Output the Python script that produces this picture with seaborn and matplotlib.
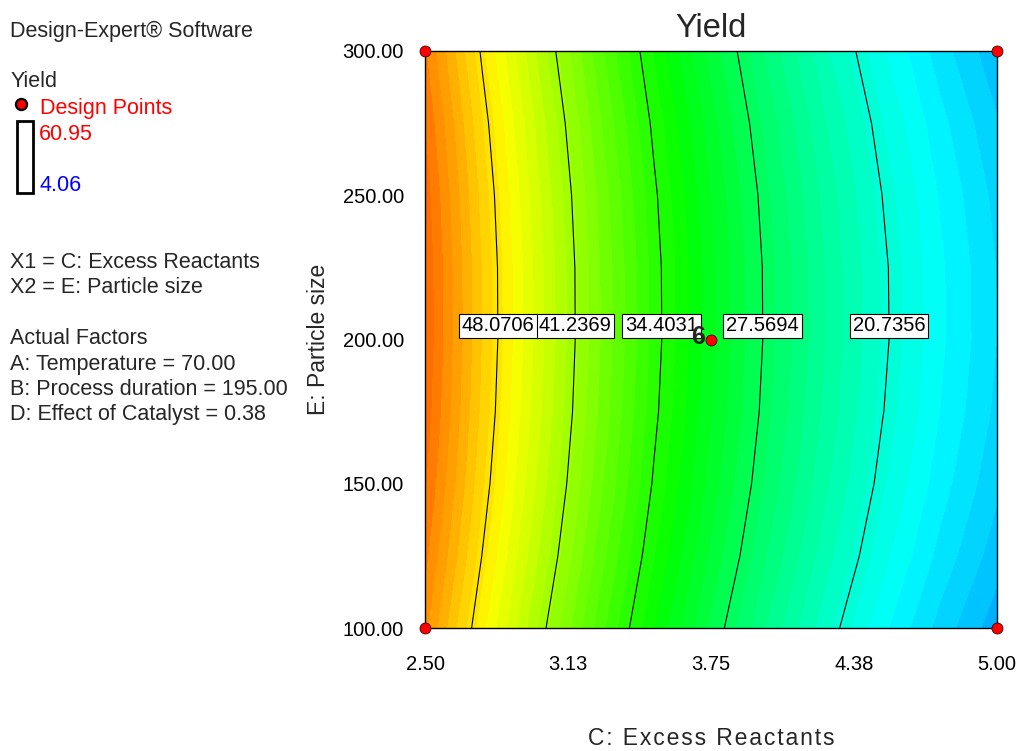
import numpy as np
import pandas as pd
import matplotlib
matplotlib.use("Agg")
import matplotlib.pyplot as plt
import seaborn as sns
from matplotlib.colors import LinearSegmentedColormap
from matplotlib.lines import Line2D
from matplotlib.patches import Rectangle

# ---------------- data ----------------
excess_reactants = [2.50, 2.75, 3.00, 3.25, 3.50, 3.75, 4.00, 4.25, 4.50, 4.75, 5.00]
particle_size = [100, 125, 150, 175, 200, 225, 250, 275, 300]
# predicted Yield, one row per particle size
yield_grid = [
    [52.65, 47.03, 41.80, 36.96, 32.50, 28.43, 24.75, 21.46, 18.55, 16.03, 13.90],
    [53.65, 48.03, 42.80, 37.96, 33.50, 29.43, 25.75, 22.46, 19.55, 17.03, 14.90],
    [54.40, 48.78, 43.55, 38.71, 34.25, 30.18, 26.50, 23.21, 20.30, 17.78, 15.65],
    [54.89, 49.27, 44.04, 39.20, 34.74, 30.67, 26.99, 23.70, 20.79, 18.27, 16.14],
    [55.12, 49.50, 44.27, 39.43, 34.97, 30.90, 27.22, 23.93, 21.02, 18.50, 16.37],
    [55.09, 49.47, 44.24, 39.40, 34.94, 30.87, 27.19, 23.90, 20.99, 18.47, 16.34],
    [54.81, 49.19, 43.96, 39.12, 34.66, 30.59, 26.91, 23.62, 20.71, 18.19, 16.06],
    [54.27, 48.65, 43.42, 38.58, 34.12, 30.05, 26.37, 23.08, 20.17, 17.65, 15.52],
    [53.47, 47.85, 42.62, 37.78, 33.32, 29.25, 25.57, 22.28, 19.37, 16.85, 14.72],
]
contour_levels = [20.7356, 27.5694, 34.4031, 41.2369, 48.0706]
label_anchor_c = [4.53, 3.98, 3.54, 3.16, 2.82]
label_anchor_e = 204.7
yield_min, yield_max = 4.06, 60.95

design_c = [2.50, 2.50, 5.00, 5.00, 3.75]
design_e = [100, 300, 100, 300, 200]
design_count = ["", "", "", "", "6"]

x_ticks = [2.50, 3.125, 3.75, 4.375, 5.00]
x_ticklabels = ["2.50", "3.13", "3.75", "4.38", "5.00"]
y_ticks = [100, 150, 200, 250, 300]
y_ticklabels = ["100.00", "150.00", "200.00", "250.00", "300.00"]

side_lines = ["X1 = C: Excess Reactants", "X2 = E: Particle size", "",
              "Actual Factors", "A: Temperature = 70.00",
              "B: Process duration = 195.00", "D: Effect of Catalyst = 0.38"]

# ---------------- style ----------------
sns.set_style("white")
plt.rcParams["font.family"] = ["Liberation Sans", "DejaVu Sans"]

W, H = 1022, 751
fig = plt.figure(figsize=(W / 100, H / 100), dpi=100)
ax = fig.add_axes([425 / W, 1 - 628 / H, 572 / W, 577 / H])


def fpos(x, y):
    return x / W, 1 - y / H


cmap = LinearSegmentedColormap.from_list(
    "de", ["#0000ff", "#00ffff", "#00ff00", "#ffff00", "#ff0000"])

C, E = np.meshgrid(np.array(excess_reactants), np.array(particle_size))
Z = np.array(yield_grid)

fill_levels = np.linspace(yield_min, yield_max, 61)
ax.contourf(C, E, Z, levels=fill_levels, cmap=cmap, vmin=yield_min,
            vmax=yield_max, antialiased=False, zorder=1)
cs = ax.contour(C, E, Z, levels=contour_levels, colors="black",
                linewidths=0.8, zorder=2)
labels = ax.clabel(cs, inline=False, fontsize=14.5, fmt="%.4f",
                   manual=[(c, label_anchor_e) for c in label_anchor_c])
for t in labels:
    t.set_rotation(0)
    t.set_color("black")
    t.set_zorder(5)
    t.set_bbox(dict(boxstyle="square,pad=0.14", facecolor="white",
                    edgecolor="black", linewidth=0.8))

pts = pd.DataFrame({"C": design_c, "E": design_e, "n": design_count})
sns.scatterplot(data=pts, x="C", y="E", ax=ax, s=62, color="red",
                edgecolor="#3a0000", linewidth=0.6, zorder=10,
                clip_on=False, legend=False)
for _, r in pts.iterrows():
    if r["n"]:
        ax.annotate(r["n"], xy=(r["C"], r["E"]), xytext=(-4.5, 2),
                    textcoords="offset points", ha="right", va="center",
                    fontsize=18, fontweight="bold", zorder=11)

ax.set_xlim(2.5, 5.0)
ax.set_ylim(100, 300)
ax.set_xticks(x_ticks)
ax.set_xticklabels(x_ticklabels)
ax.set_yticks(y_ticks)
ax.set_yticklabels(y_ticklabels)
ax.tick_params(axis="both", direction="out", length=11.5, width=1,
               color="#808080", labelsize=14.5, labelcolor="black")
ax.tick_params(axis="x", pad=8)
ax.tick_params(axis="y", pad=3.6)
for s in ax.spines.values():
    s.set_color("black")
    s.set_linewidth(1.0)
    s.set_zorder(6)

ax.set_title("Yield", fontsize=23.5, pad=10)
ax.set_xlabel("\u200a".join("C: Excess Reactants"), fontsize=16.5)
ax.xaxis.set_label_coords(0.5, -0.171)
ax.set_ylabel("E: Particle size", fontsize=16.5)
ax.yaxis.set_label_coords(-0.166, 0.5)

# ---------------- side panel ----------------
fs = 15.5
fig.text(*fpos(10.5, 37), "Design-Expert\u00ae Software", fontsize=fs, va="baseline")
fig.text(*fpos(10.5, 87), "Yield", fontsize=fs, va="baseline")
fig.add_artist(Line2D([fpos(20.7, 104)[0]], [fpos(20.7, 104)[1]], marker="o",
                      ms=8, mfc="red", mec="black", mew=1.6,
                      transform=fig.transFigure))
fig.text(*fpos(39.5, 114), "Design Points", fontsize=fs, va="baseline", color="red")
fig.add_artist(Rectangle(fpos(17, 192.5), 16 / W, 72 / H, fill=False,
                         lw=2, ec="black", transform=fig.transFigure))
fig.text(*fpos(39, 140), f"{yield_max:.2f}", fontsize=fs, va="baseline", color="red")
fig.text(*fpos(39, 191), f"{yield_min:.2f}", fontsize=fs, va="baseline", color="blue")
y0 = 268
for i, line in enumerate(side_lines):
    if line:
        fig.text(*fpos(10.5, y0 + i * 25.4), line, fontsize=fs, va="baseline")

fig.savefig("out.png", dpi=100)
